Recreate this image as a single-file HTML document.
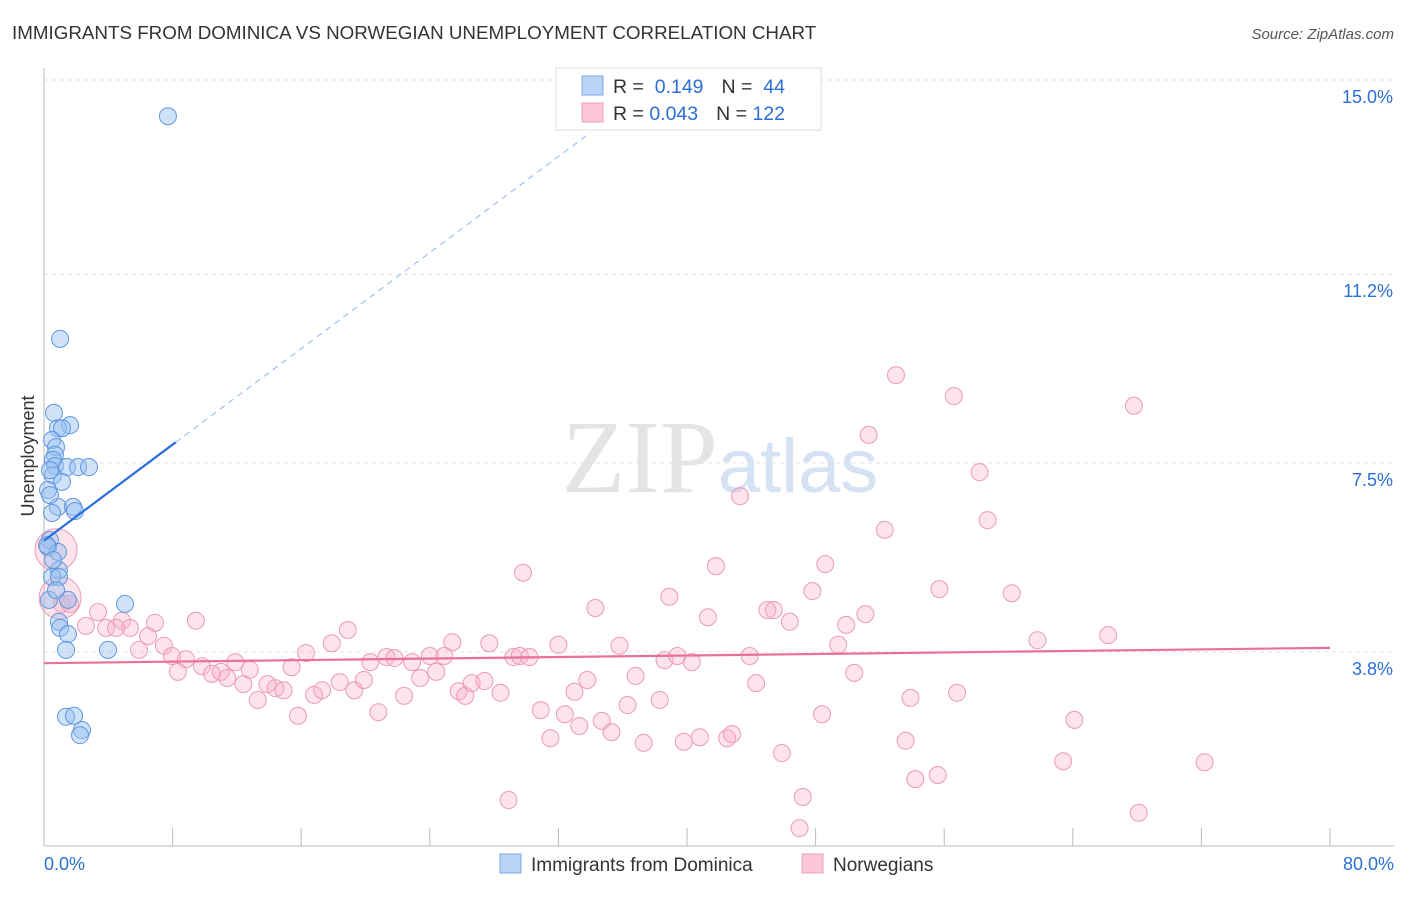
<!DOCTYPE html>
<html><head><meta charset="utf-8"><style>
body{margin:0;background:#fff;font-family:"Liberation Sans",sans-serif;}
</style></head><body>
<svg id="chart" width="1406" height="892" xmlns="http://www.w3.org/2000/svg">
<text x="12" y="39" font-size="18.8" fill="#333">IMMIGRANTS FROM DOMINICA VS NORWEGIAN UNEMPLOYMENT CORRELATION CHART</text>
<text x="1394" y="39" font-size="15" fill="#555" text-anchor="end" font-style="italic">Source: ZipAtlas.com</text>
<text x="720" y="492" font-size="104" fill="#e4e4e4" text-anchor="middle" font-family="Liberation Serif,serif">ZIP<tspan fill="#d4e2f4" font-family="Liberation Sans,sans-serif" font-size="76">atlas</tspan></text>
<g id="grid"></g><g id="axes"></g><g id="marks"></g>
<text transform="translate(34,456) rotate(-90)" font-size="18" fill="#333" text-anchor="middle">Unemployment</text>
<g>
<rect x="556" y="68" width="265" height="62" fill="#fff" stroke="#ddd"/>
<rect x="582" y="76" width="21" height="19" fill="#b8d3f5" stroke="#7aa8e6"/>
<rect x="582" y="103" width="21" height="19" fill="#fbc7d6" stroke="#eea0bb"/>
<text x="613" y="93" font-size="19.5" fill="#333">R = <tspan fill="#2a6fd6">&#160;0.149</tspan><tspan dx="18">N = </tspan><tspan fill="#2a6fd6">&#160;44</tspan></text>
<text x="613" y="120" font-size="19.5" fill="#333">R = <tspan fill="#2a6fd6">0.043</tspan><tspan dx="18">N = </tspan><tspan fill="#2a6fd6">122</tspan></text>
</g>
<g>
<rect x="500" y="854" width="21" height="19" fill="#b8d3f5" stroke="#7aa8e6"/>
<text x="531" y="871" font-size="19" fill="#333">Immigrants from Dominica</text>
<rect x="802" y="854" width="21" height="19" fill="#fbc7d6" stroke="#eea0bb"/>
<text x="833" y="871" font-size="19" fill="#333">Norwegians</text>
</g>
</svg>
<script>
const yTicks=[3.8,7.5,11.2,15.0];
const yTickLabels=["3.8%","7.5%","11.2%","15.0%"];
const xTickLabels=["0.0%","80.0%"];
const domX=[0,1,2,3,4,5,6,7,8,9,10];
const blueX=[7.71,1.0,0.62,1.62,0.87,1.12,0.5,0.75,0.68,0.56,0.68,1.43,2.12,2.8,0.56,1.12,0.25,0.87,1.8,1.93,0.5,0.37,0.25,0.87,0.93,0.5,0.93,1.49,5.04,0.93,1.0,1.49,1.37,3.98,1.37,1.87,2.36,2.24,0.37,0.37,0.56,0.31,0.19,0.75];
const blueY=[14.29,9.93,8.48,8.24,8.18,8.18,7.95,7.81,7.66,7.56,7.44,7.42,7.42,7.42,7.26,7.13,6.97,6.64,6.64,6.56,6.52,5.99,5.85,5.76,5.40,5.27,5.27,4.82,4.74,4.39,4.27,4.15,3.84,3.84,2.53,2.55,2.27,2.17,7.36,6.87,5.60,4.82,5.89,5.01];
const pinkX=[53.0,56.6,67.8,51.3,58.2,43.3,58.7,52.3,41.8,48.6,29.8,55.7,60.2,38.9,34.3,47.8,45.0,45.4,51.1,46.4,49.9,41.3,61.8,66.2,9.45,6.9,3.36,4.85,6.47,5.35,2.61,3.86,4.48,7.46,5.91,7.96,8.83,8.33,9.83,10.45,11.0,11.4,11.9,12.4,12.8,13.3,13.9,14.4,14.9,15.4,15.8,16.3,16.8,17.3,17.9,18.4,18.9,19.3,19.9,20.3,20.8,21.3,21.8,22.4,22.9,23.4,24.0,24.4,24.9,25.4,25.8,26.2,26.6,27.4,27.7,28.4,29.2,29.6,30.2,30.9,31.5,32.0,32.4,33.0,33.3,33.8,34.7,35.3,35.8,36.3,36.8,37.3,38.3,38.6,39.4,39.8,40.3,40.8,42.5,42.8,43.9,44.3,45.9,48.4,49.4,50.4,53.6,53.9,54.2,55.6,56.8,63.4,64.1,72.2,28.9,47.2,47.0,68.1,1.12,1.62,0.75,1.0];
const pinkY=[9.22,8.81,8.62,8.05,7.32,6.85,6.38,6.19,5.48,5.52,5.35,5.03,4.95,4.88,4.66,4.99,4.62,4.62,4.54,4.39,4.33,4.48,4.03,4.13,4.41,4.37,4.58,4.41,4.11,4.27,4.31,4.27,4.27,3.92,3.84,3.72,3.66,3.41,3.52,3.37,3.41,3.29,3.60,3.17,3.45,2.86,3.17,3.09,3.05,3.50,2.55,3.78,2.96,3.05,3.97,3.21,4.23,3.05,3.25,3.60,2.62,3.70,3.68,2.94,3.60,3.29,3.72,3.41,3.72,3.99,3.03,2.94,3.19,3.23,3.97,3.00,3.70,3.72,3.70,2.66,2.11,3.94,2.58,3.02,2.35,3.25,2.45,2.23,3.92,2.76,3.33,2.02,2.86,3.64,3.72,2.04,3.60,2.13,2.11,2.19,3.72,3.19,1.82,2.58,3.94,3.39,2.06,2.90,1.31,1.39,3.00,1.66,2.47,1.64,0.90,0.96,0.35,0.65,4.74,4.74,5.80,4.86];
const pinkBig=[0,0,0,0,0,0,0,0,0,0,0,0,0,0,0,0,0,0,0,0,0,0,0,0,0,0,0,0,0,0,0,0,0,0,0,0,0,0,0,0,0,0,0,0,0,0,0,0,0,0,0,0,0,0,0,0,0,0,0,0,0,0,0,0,0,0,0,0,0,0,0,0,0,0,0,0,0,0,0,0,0,0,0,0,0,0,0,0,0,0,0,0,0,0,0,0,0,0,0,0,0,0,0,0,0,0,0,0,0,0,0,0,0,0,0,0,0,0,0,0,1,1];
const blueFit=[5.98,0.235];
const pinkFit=[3.58,0.00375];
const NS="http://www.w3.org/2000/svg";
const X=v=>44+v*16.075, Y=v=>846-v*51.07;
function mk(tag,at,parent){const e=document.createElementNS(NS,tag);for(const k in at)e.setAttribute(k,at[k]);document.getElementById(parent).appendChild(e);return e;}
yTicks.forEach((t,i)=>{
 const l=mk('line',{x1:44,x2:1394,y1:Y(t),y2:Y(t),stroke:'#e2e2e2','stroke-dasharray':'4,4'},'grid');
 
 
 const tx=mk('text',{x:1393,y:Y(t)+23,'font-size':18,fill:'#2a6fd6','text-anchor':'end'},'axes');
 tx.textContent=yTickLabels[i];
 
 
});
const ax=mk('line',{x1:44,x2:44,y1:68,y2:846,stroke:'#bbb'},'axes');


const bx=mk('line',{x1:44,x2:1394,y1:846,y2:846,stroke:'#bbb'},'axes');


domX.forEach(d=>{const t=mk('line',{x1:X(d*8),x2:X(d*8),y1:828,y2:846,stroke:'#bbb'},'axes');
 
 });
[[0,'start',44],[80,'end',1394]].forEach((a,i)=>{const t=mk('text',{x:a[2],y:870,'font-size':18,fill:'#2a6fd6','text-anchor':a[1]},'axes');t.textContent=xTickLabels[i];
 
 });
pinkX.forEach((x,i)=>{const c=mk('circle',{cx:X(x),cy:Y(pinkY[i]),r:pinkBig[i]?21:8.5,fill:'rgba(248,175,198,0.35)',stroke:'#ec9ab7','stroke-width':1},'marks');
 
 });
blueX.forEach((x,i)=>{const c=mk('circle',{cx:X(x),cy:Y(blueY[i]),r:8.5,fill:'rgba(150,190,240,0.45)',stroke:'#5f97e0','stroke-width':1},'marks');
 
 });
const pl=mk('line',{x1:X(0),y1:Y(pinkFit[0]),x2:X(80),y2:Y(pinkFit[0]+pinkFit[1]*80),stroke:'#e8709a','stroke-width':2.2},'marks');


const bl=mk('line',{x1:X(0),y1:Y(blueFit[0]),x2:X(8.2),y2:Y(blueFit[0]+blueFit[1]*8.2),stroke:'#2a6fd6','stroke-width':2.2},'marks');


const bd=mk('line',{x1:X(8.2),y1:Y(blueFit[0]+blueFit[1]*8.2),x2:X(34),y2:Y(blueFit[0]+blueFit[1]*34),stroke:'#8fb4e8','stroke-width':1,'stroke-dasharray':'6,5'},'marks');


</script>
</body></html>
